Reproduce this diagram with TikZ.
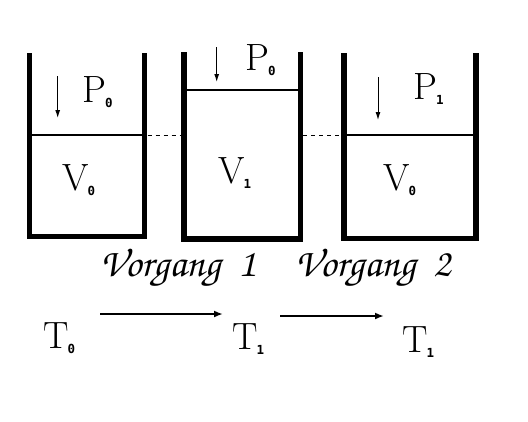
\documentclass[tikz,border=0pt]{standalone}
\usepackage[T1]{fontenc}
\usepackage{fontspec}
\usepackage{tikz}
\usetikzlibrary{arrows.meta,calc,positioning}
\newfontfamily\subfont{DejaVu Sans Mono}
\newcommand{\bigtext}{\fontsize{38}{38}\selectfont}
\newcommand{\scripttext}{\fontencoding{T1}\fontfamily{pzc}\fontseries{mb}\fontshape{it}\fontsize{40}{40}\selectfont}
\newcommand{\lbl}[2]{#1\kern-1pt\raisebox{-5pt}{\subfont\bfseries\fontsize{12.5}{12.5}\selectfont #2}}

\begin{document}
\begin{tikzpicture}[
      x=1pt, y=-1pt,
      >=Latex,
      wall/.style={line width=5.5pt, line join=miter},
      piston/.style={line width=2.6pt},
      gap/.style={line width=0.8pt, dash pattern=on 4pt off 4pt},
      force/.style={line width=1pt, -{Latex[length=8pt,width=5pt]}},
      process/.style={line width=2.6pt, -{Latex[length=9pt,width=7pt]}},
      sym/.style={inner sep=0pt, anchor=base west, font=\bigtext},
      step label/.style={inner sep=0pt, anchor=base west, font=\scripttext}
    ]

    \useasboundingbox (0,0) rectangle (528,421);

    % -------- Zylinder --------
    \foreach \l/\r/\t/\b/\k in {29.5/144.7/53/236.5/135, 184.2/300.3/52/239/90, 344.2/476/53/238.3/135}{
      \draw[wall] (\l,\t) -- (\l,\b) -- (\r,\b) -- (\r,\t);
      \draw[piston] ({\l+2.7},\k) -- ({\r-2.7},\k);
    }

    % gleiche Kolbenhoehe
    \coordinate (gapA1) at (147.5,135);
    \coordinate (gapA2) at (181.5,135);
    \coordinate (gapB1) at (303,135);
    \coordinate (gapB2) at (341.5,135);
    \draw[gap] (gapA1) -- (gapA2);
    \draw[gap] (gapB1) -- (gapB2);

    % Druckpfeile
    \coordinate (fA) at (57.7,76);
    \coordinate (fB) at (216.7,47);
    \coordinate (fC) at (378,77);
    \draw[force] (fA) -- ++(0,42);
    \draw[force] (fB) -- ++(0,35);
    \draw[force] (fC) -- ++(0,43);

    % Zustandsgroessen
    \node[sym] (pA) at (82,102) {\lbl{P}{0}};
    \node[sym] (vA) at (62,190) {\lbl{V}{0}};
    \node[sym] (pB) at (245,70) {\lbl{P}{0}};
    \node[sym] (vB) at (218,183) {\lbl{V}{1}};
    \node[sym] (pC) at (413,99) {\lbl{P}{1}};
    \node[sym] (vC) at (383,190) {\lbl{V}{0}};

    % -------- Vorgaenge --------
    \node[step label] (stepA) at (100,276) {Vorgang\ \ 1};
    \node[step label] (stepB) at (295,276) {Vorgang\ \ 2};

    % Temperaturen
    \node[sym] (tA) at (43,348) {\lbl{T}{0}};
    \node[sym] (tB) at (232,349) {\lbl{T}{1}};
    \node[sym] (tC) at (402,352) {\lbl{T}{1}};

    \coordinate (arrA) at (100,314);
    \coordinate (arrB) at (280,316);
    \draw[process] (arrA) -- ($(arrA -| tB.west)+(-9,0)$);
    \draw[process] (arrB) -- ($(arrB -| tC.west)+(-18,0)$);

\end{tikzpicture}
\end{document}
